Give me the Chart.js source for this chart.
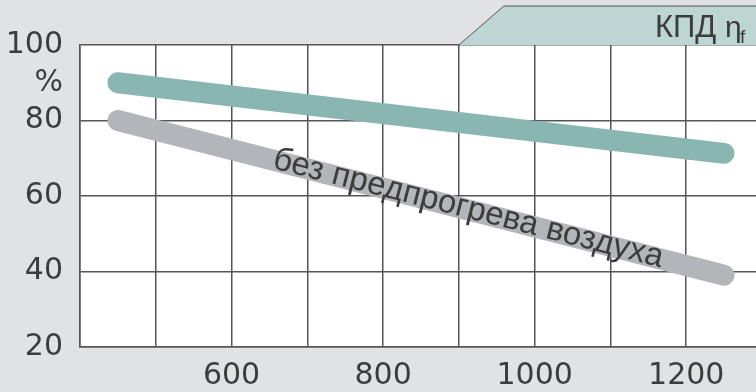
<!DOCTYPE html>
<html>
<head>
<meta charset="utf-8">
<script src="https://cdn.jsdelivr.net/npm/chart.js@4"></script>
<style>
html, body { margin: 0; padding: 0; background: #e1e2e4; overflow: hidden; }
#wrap { width: 762px; height: 392px; }
</style>
</head>
<body>
<div id="wrap"><canvas id="chart" width="762" height="392"></canvas></div>
<script>
// values
const temperatures = [450, 1250];
const efficiencyPreheat = [90, 71.3];
const efficiencyNoPreheat = [80, 39];
const yTickValues = [20, 40, 60, 80, 90, 100];
const yTickLabels = ['20', '40', '60', '80', '%', '100'];
const xLabelValues = [600, 800, 1000, 1200];
const curveLabel = 'без предпрогрева воздуха';
const curveLabelAt = 912;
const titleMain = 'КПД';
const titleEta = 'η';
const titleSub = 'f';

const gridColor = '#555';
const textColor = '#3c3c3c';
const tickFont = "'DejaVu Sans', sans-serif";
const labelFont = "'Liberation Sans', Arial, sans-serif";

const plotBackground = {
    id: 'plotBackground',
    beforeDraw(chart) {
        const { ctx, chartArea: a } = chart;
        ctx.save();
        ctx.fillStyle = '#ffffff';
        ctx.fillRect(a.left, a.top, a.right - a.left, a.bottom - a.top);
        ctx.restore();
    }
};

const titleBox = {
    id: 'titleBox',
    afterDraw(chart) {
        const { ctx, chartArea: a } = chart;
        const x0 = chart.scales.x.getPixelForValue(900);
        ctx.save();
        ctx.beginPath();
        ctx.moveTo(x0, a.top);
        ctx.lineTo(x0 + 45, 6);
        ctx.lineTo(chart.width, 6);
        ctx.lineTo(chart.width, a.top);
        ctx.closePath();
        ctx.fillStyle = '#bdd5d3';
        ctx.fill();
        ctx.beginPath();
        ctx.moveTo(x0, a.top);
        ctx.lineTo(x0 + 45, 6);
        ctx.lineTo(chart.width, 6);
        ctx.strokeStyle = gridColor;
        ctx.lineWidth = 1;
        ctx.stroke();
        ctx.fillStyle = textColor;
        ctx.textBaseline = 'alphabetic';
        ctx.textAlign = 'left';
        ctx.font = '31px ' + labelFont;
        ctx.fillText(titleMain, 655, 37);
        ctx.font = '30px ' + labelFont;
        ctx.fillText(titleEta, 725, 37);
        ctx.font = '19px ' + labelFont;
        ctx.fillText(titleSub, 740, 43);
        ctx.restore();
    }
};

const curveText = {
    id: 'curveText',
    afterDatasetsDraw(chart) {
        const { ctx } = chart;
        const xs = chart.scales.x, ys = chart.scales.y;
        const x0 = xs.getPixelForValue(temperatures[0]), y0 = ys.getPixelForValue(efficiencyNoPreheat[0]);
        const x1 = xs.getPixelForValue(temperatures[1]), y1 = ys.getPixelForValue(efficiencyNoPreheat[1]);
        const angle = Math.atan2(y1 - y0, x1 - x0);
        const t = (curveLabelAt - temperatures[0]) / (temperatures[1] - temperatures[0]);
        const ax = x0 + (x1 - x0) * t, ay = y0 + (y1 - y0) * t;
        ctx.save();
        ctx.translate(ax, ay);
        ctx.rotate(angle);
        ctx.font = '33px ' + labelFont;
        ctx.fillStyle = textColor;
        ctx.textAlign = 'center';
        ctx.textBaseline = 'alphabetic';
        ctx.fillText(curveLabel, 0, 8);
        ctx.restore();
    }
};

new Chart(document.getElementById('chart'), {
    type: 'line',
    data: {
        datasets: [{
            data: temperatures.map((t, i) => ({ x: t, y: efficiencyPreheat[i] })),
            borderColor: '#8ab6b2',
            borderWidth: 21,
            borderCapStyle: 'round',
            pointRadius: 0,
            tension: 0
        }, {
            data: temperatures.map((t, i) => ({ x: t, y: efficiencyNoPreheat[i] })),
            borderColor: '#b4b5ba',
            borderWidth: 21,
            borderCapStyle: 'round',
            pointRadius: 0,
            tension: 0
        }]
    },
    options: {
        responsive: false,
        animation: false,
        layout: { padding: { top: 45, left: 0, right: 0, bottom: 0 } },
        plugins: { legend: { display: false }, tooltip: { enabled: false } },
        scales: {
            x: {
                type: 'linear',
                min: 400,
                max: 1300,
                border: { display: true, color: gridColor, width: 1.5 },
                grid: { color: gridColor, lineWidth: 1.5, drawTicks: false },
                ticks: {
                    stepSize: 100,
                    autoSkip: false,
                    maxRotation: 0,
                    padding: 11,
                    color: textColor,
                    font: { family: tickFont, size: 30 },
                    callback: v => xLabelValues.includes(v) ? String(v) : ''
                },
                afterFit: s => { s.height = 45; s.paddingLeft = 0; s.paddingRight = 0; }
            },
            y: {
                min: 20,
                max: 100,
                border: { display: true, color: gridColor, width: 1.5 },
                grid: {
                    color: c => (c.tick && c.tick.value === 90) ? 'rgba(0,0,0,0)' : gridColor,
                    lineWidth: 1.5,
                    drawTicks: false
                },
                afterBuildTicks: s => { s.ticks = yTickValues.map(v => ({ value: v })); },
                ticks: {
                    padding: 17,
                    color: textColor,
                    font: { family: tickFont, size: 30 },
                    callback: v => yTickLabels[yTickValues.indexOf(v)]
                },
                afterFit: s => { s.width = 80; }
            }
        }
    },
    plugins: [plotBackground, titleBox, curveText]
});
</script>
</body>
</html>
